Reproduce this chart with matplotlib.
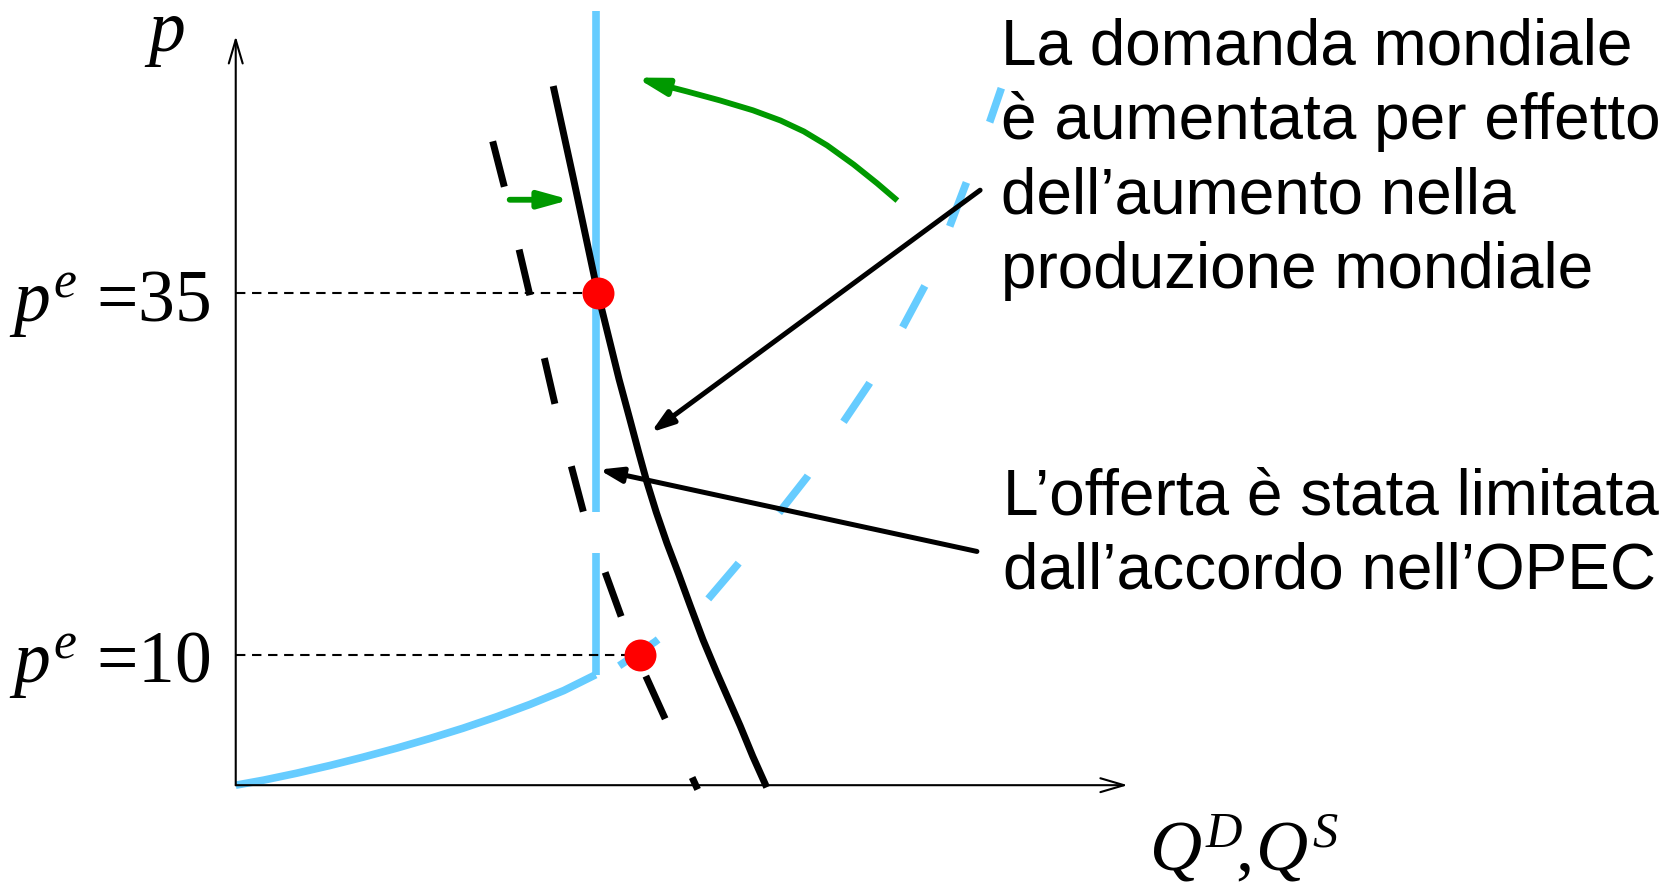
import matplotlib.pyplot as plt

plt.rcParams['mathtext.fontset'] = 'custom'
plt.rcParams['mathtext.rm'] = 'Liberation Serif'
plt.rcParams['mathtext.it'] = 'Liberation Serif:italic'

# schematic units, origin of the diagram at (0, 0)
supply_q = [0, 2.6, 5.7, 8.9, 12.0, 15.2, 18.3, 21.4, 24.6, 27.7, 30.9, 33.9]
supply_p = [0, 0.47, 1.12, 1.86, 2.64, 3.5, 4.4, 5.36, 6.45, 7.6, 8.91, 10.4]
cap_q = 33.9
cap_top = 72.9
cap_gap = [21.9, 25.7]

supply_ext_q = [33.9, 35.9, 39.5, 44.3, 47.2, 50.5, 53.8, 57.1, 59.6, 62.7, 64.9, 67.2, 68.8, 71.0, 72.1]
supply_ext_p = [10.4, 11.1, 13.5, 17.3, 20.7, 24.8, 29.0, 34.0, 37.7, 42.9, 47.0, 52.5, 56.7, 62.4, 65.6]

demand_new_q = [29.9, 31.8, 34.1, 36.1, 37.1, 37.9, 38.7, 39.6, 40.6, 41.7, 42.8, 44.0,
                45.3, 46.4, 47.5, 48.7, 50.0]
demand_new_p = [65.8, 57.1, 46.3, 38.2, 34.5, 31.5, 28.6, 25.7, 22.8, 19.9, 16.9, 13.7,
                10.6, 8.1, 5.6, 2.7, -0.2]

demand_old_q = [24.2, 25.3, 27.7, 30.1, 32.8, 36.4, 37.7, 40.6, 43.5]
demand_old_p = [60.6, 56.3, 46.1, 35.7, 25.5, 15.6, 12.3, 5.9, -0.4]

eq_q = [34.1, 38.1]
eq_p = [46.3, 12.3]
eq_labels = ['35', '10']

shift_q = [62.1, 60.4, 58.2, 55.7, 53.5, 51.3, 48.7, 45.6, 42.5, 40.3]
shift_p = [55.2, 56.65, 58.41, 60.21, 61.53, 62.56, 63.52, 64.45, 65.29, 65.86]
shift_tip = (37.7, 66.6)

note_demand = ['La domanda mondiale', 'è aumentata per effetto',
               'dell’aumento nella', 'produzione mondiale']
note_supply = ['L’offerta è stata limitata', 'dall’accordo nell’OPEC']

blue = '#66CCFF'
green = '#009900'

fig = plt.figure(figsize=(16.65, 8.84), dpi=100)
ax = fig.add_axes([0, 0, 1, 1])
ax.set_xlim(-22.2, 134.6)
ax.set_ylim(-9.3, 73.9)
ax.axis('off')

# axes with arrow heads
axhead = dict(arrowstyle='->,head_length=1.7,head_width=0.5', lw=1.5, color='k',
              shrinkA=0, shrinkB=0, mutation_scale=10)
ax.annotate('', xy=(0, 70.5), xytext=(0, 0), arrowprops=axhead)
ax.annotate('', xy=(84.0, 0), xytext=(0, 0), arrowprops=axhead)

# supply
ax.plot(supply_q, supply_p, color=blue, lw=5.5, solid_capstyle='butt', solid_joinstyle='round')
ax.plot([cap_q, cap_q], [supply_p[-1], cap_gap[0]], color=blue, lw=5.5, solid_capstyle='butt')
ax.plot([cap_q, cap_q], [cap_gap[1], cap_top], color=blue, lw=5.5, solid_capstyle='butt')
ax.plot(supply_ext_q, supply_ext_p, color=blue, lw=5.5, linestyle=(11.3, (6.15, 8.45)),
        dash_capstyle='butt')

# demand
ax.plot(demand_old_q, demand_old_p, color='k', lw=5, linestyle=(0, (6.75, 9.3)),
        dash_capstyle='butt')
ax.plot(demand_new_q, demand_new_p, color='k', lw=5, solid_capstyle='butt',
        solid_joinstyle='round')

# price guides and labels
for q, p, lab in zip(eq_q, eq_p, eq_labels):
    ax.plot([0, q], [p, p], color='k', lw=1.5, linestyle=(0, (4.5, 3.2)))
    ax.text(-2.4, p - 2.6, r'$p^e$ =' + lab, ha='right', va='baseline',
            fontsize=53, family='Liberation Serif')
ax.plot(eq_q, eq_p, 'o', ms=23, color='red', mec='none', zorder=5)

ax.text(-6.5, 69.1, 'p', ha='center', va='baseline', fontsize=53,
        family='Liberation Serif', style='italic')
ax.text(86.0, -8.0, r'$Q^D\!,\!Q^S$', ha='left', va='baseline', fontsize=52)

# green shift arrows
head_g = dict(arrowstyle='-|>,head_length=1.8,head_width=0.5', lw=4.2, color=green,
              shrinkA=0, shrinkB=0, mutation_scale=10)
ax.annotate('', xy=(31.5, 55.1), xytext=(25.8, 55.1), arrowprops=head_g)
ax.plot(shift_q, shift_p, color=green, lw=4.2, solid_joinstyle='round')
ax.annotate('', xy=shift_tip, xytext=(shift_q[-1], shift_p[-1]), arrowprops=head_g)

# pointers from the notes
head_k = dict(arrowstyle='-|>,head_length=1.35,head_width=0.45', lw=3.6, color='k',
              shrinkA=0, shrinkB=0, mutation_scale=10)
ax.annotate('', xy=(39.1, 33.2), xytext=(70.1, 56.0), arrowprops=head_k)
ax.annotate('', xy=(34.2, 29.7), xytext=(69.8, 22.0), arrowprops=head_k)

for i, line in enumerate(note_demand):
    ax.text(72.1, 67.8 - 7.0 * i, line, ha='left', va='baseline', fontsize=46,
            family='Liberation Sans')
for i, line in enumerate(note_supply):
    ax.text(72.3, 25.5 - 7.0 * i, line, ha='left', va='baseline', fontsize=46,
            family='Liberation Sans')

fig.savefig('out.png', dpi=100)
